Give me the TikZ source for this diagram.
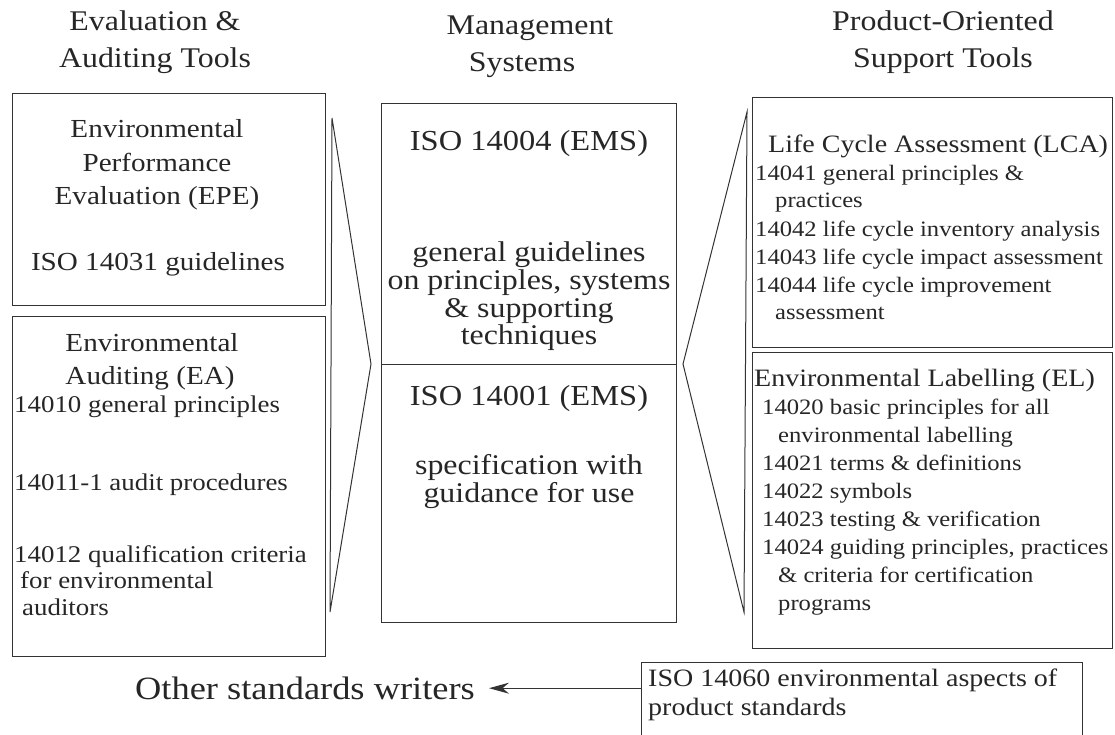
\documentclass[tikz,border=0pt]{standalone}
\usepackage{fontspec}
\setmainfont{Liberation Serif}[FakeStretch=1.12]
\usetikzlibrary{%
  arrows.meta,% Stealth tip
  positioning%
}

\begin{document}
\begin{tikzpicture}[x=1pt,y=-1pt,
	panel/.style={
	rectangle,inner sep=0pt,anchor=north west,
	draw=black!80,line width=1pt
	},head/.style={
	inner sep=0pt,anchor=mid,text=black!85,
	font=\fontsize{28.5}{32}\selectfont
	},bigtxt/.style={
	inner sep=0pt,anchor=mid,text=black!85,
	font=\fontsize{29}{32}\selectfont
	},midtxt/.style={
	inner sep=0pt,anchor=mid,text=black!85,
	font=\fontsize{28.5}{32}\selectfont
	},lefttitle/.style={
	inner sep=0pt,anchor=mid,text=black!85,
	font=\fontsize{26}{30}\selectfont
	},leftitem/.style={
	inner sep=0pt,anchor=mid west,text=black!85,
	font=\fontsize{24}{28}\selectfont
	},righttitle/.style={
	inner sep=0pt,anchor=mid west,text=black!85,
	font=\fontsize{25}{28}\selectfont
	},rightitem/.style={
	inner sep=0pt,anchor=mid west,text=black!85,
	font=\fontsize{22}{26}\selectfont
	},chev/.style={
	draw=black!80,line width=1pt,line join=miter
	}
]
\useasboundingbox (0,0) rectangle (1115,734);

% column heads
\node[head] (hdEvalA) at (155,28) {Evaluation \&};
\node[head] (hdEvalB) at (155,65) {Auditing Tools};
\node[head] (hdMgmtA) at (530,32) {Management};
\node[head] (hdMgmtB) at (522,69) {Systems};
\node[head] (hdProdA) at (943,28) {Product-Oriented};
\node[head] (hdProdB) at (943,65) {Support Tools};

% boxes
\node[panel,minimum width=313pt,minimum height=212pt] (atomEPE) at (12,93) {};
\node[panel,minimum width=313pt,minimum height=340pt] (atomEA) at (12,316) {};
\node[panel,minimum width=295pt,minimum height=519pt] (atomMS) at (381,103) {};
\node[panel,minimum width=360pt,minimum height=250pt] (atomLCA) at (752,97) {};
\node[panel,minimum width=360pt,minimum height=296pt] (atomEL) at (752,352) {};
\node[panel,minimum width=441pt,minimum height=100pt] (atomPS) at (641,662) {};
\draw[line width=1pt,draw=black!80] (atomMS.west |- 0,364) -- (atomMS.east |- 0,364);

% Environmental Performance Evaluation
\node[lefttitle] (lblEPEa) at (157,135) {Environmental};
\node[lefttitle] (lblEPEb) at (157,169) {Performance};
\node[lefttitle] (lblEPEc) at (157,202) {Evaluation (EPE)};
\node[lefttitle] (lblEPEd) at (158,268) {ISO 14031 guidelines};

% Environmental Auditing
\node[lefttitle] (lblEAa) at (152,349) {Environmental};
\node[lefttitle] (lblEAb) at (150,382) {Auditing (EA)};
\node[leftitem] (lblEAc) at (14,410) {14010 general principles};
\node[leftitem] (lblEAd) at (14,488) {14011-1 audit procedures};
\node[leftitem] (lblEAe) at (14,560) {14012 qualification criteria};
\node[leftitem] (lblEAf) at (20,586) {for environmental};
\node[leftitem] (lblEAg) at (22,613) {auditors};

% Management Systems
\node[bigtxt] (lblMSa) at (529,148) {ISO 14004 (EMS)};
\node[midtxt] (lblMSb) at (529,259) {general guidelines};
\node[midtxt] (lblMSc) at (529,287) {on principles, systems};
\node[midtxt] (lblMSd) at (529,315) {\& supporting};
\node[midtxt] (lblMSe) at (529,342) {techniques};
\node[bigtxt] (lblMSf) at (529,403) {ISO 14001 (EMS)};
\node[midtxt] (lblMSg) at (529,472) {specification with};
\node[midtxt] (lblMSh) at (529,500) {guidance for use};

% Life Cycle Assessment
\node[righttitle] (lblLCAa) at (768,150) {Life Cycle Assessment (LCA)};
\node[rightitem] (lblLCAb) at (755,178) {14041 general principles \&};
\node[rightitem] (lblLCAc) at (775,205) {practices};
\node[rightitem] (lblLCAd) at (755,234) {14042 life cycle inventory analysis};
\node[rightitem] (lblLCAe) at (755,262) {14043 life cycle impact assessment};
\node[rightitem] (lblLCAf) at (755,290) {14044 life cycle improvement};
\node[rightitem] (lblLCAg) at (775,317) {assessment};

% Environmental Labelling
\node[righttitle] (lblELa) at (754,384) {Environmental Labelling (EL)};
\node[rightitem] (lblELb) at (762,412) {14020 basic principles for all};
\node[rightitem] (lblELc) at (778,440) {environmental labelling};
\node[rightitem] (lblELd) at (762,468) {14021 terms \& definitions};
\node[rightitem] (lblELe) at (762,496) {14022 symbols};
\node[rightitem] (lblELf) at (762,524) {14023 testing \& verification};
\node[rightitem] (lblELg) at (762,552) {14024 guiding principles, practices};
\node[rightitem] (lblELh) at (778,580) {\& criteria for certification};
\node[rightitem] (lblELi) at (778,608) {programs};

% product standards
\node[rightitem,font=\fontsize{25}{28}\selectfont] (lblPSa) at (648,684) {ISO 14060 environmental aspects of};
\node[rightitem,font=\fontsize{25}{28}\selectfont] (lblPSb) at (648,713) {product standards};
\node[head,font=\fontsize{32.5}{36}\selectfont] (lblOther) at (305,697) {Other standards writers};

% chevrons
\coordinate (POSA) at (332,118);
\coordinate (POSB) at (371,364);
\coordinate (POSC) at (330,612);
\coordinate (POSD) at (747,112);
\coordinate (POSE) at (683,364);
\coordinate (POSF) at (744,612);
\draw[chev] (POSA) -- (POSB) -- (POSC) -- cycle;
\draw[chev] (POSD) -- (POSE) -- (POSF) -- cycle;

\draw[line width=1.2pt,draw=black!80,-{Stealth[length=20pt,width=11pt]}] (atomPS.west |- lblOther) -- ([xshift=14pt]lblOther.east);

\end{tikzpicture}
\end{document}
